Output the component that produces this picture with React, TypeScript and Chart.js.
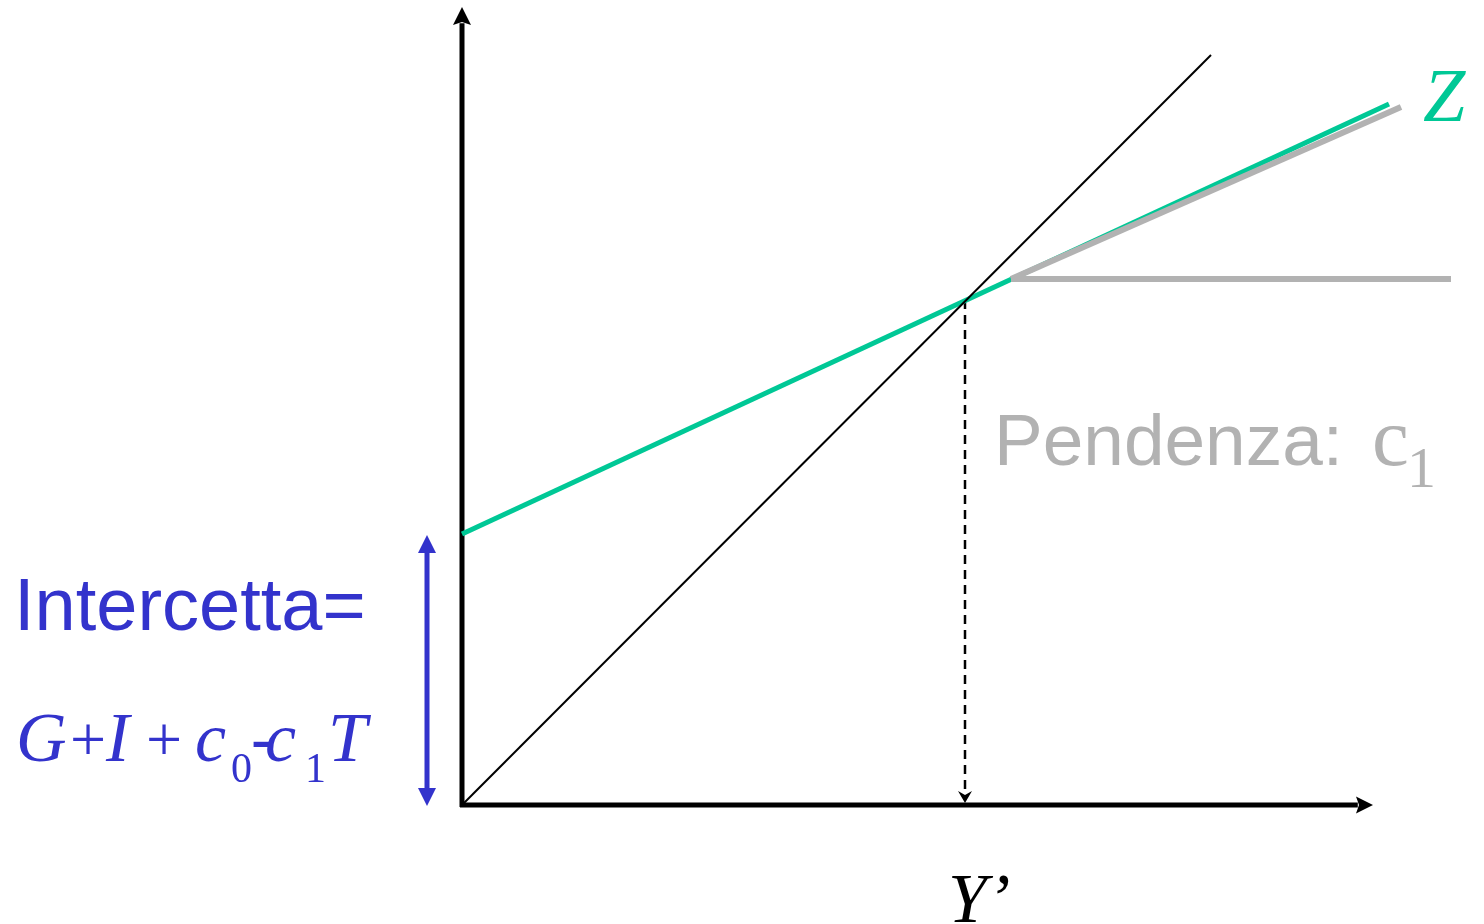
import React, { useEffect, useRef } from "react";
import { Chart, registerables } from "chart.js";

Chart.register(...registerables);

// ---- data (units: value space of the diagram, origin = (0,0)) ----
const X_RANGE = [-4.62, 10.22];
const Y_RANGE = [-1.19, 8.05];

const yAxisLine = [[0, -0.02], [0, 7.98]];
const xAxisLine = [[-0.02, 0], [9.11, 0]];
const line45 = [[0, 0], [7.49, 7.5]];
const zzLine = [[0, 2.71], [9.27, 7.01]];
const slopeLine = [[5.49, 5.26], [9.39, 6.98]];
const flatLine = [[5.49, 5.26], [9.89, 5.26]];
const eqDrop = [[5.03, 5.05], [5.03, 0.02]];
const interceptArrow = [[-0.35, -0.01], [-0.35, 2.7]];

const BLACK = "#000000";
const GREEN = "rgb(0,200,150)";
const GRAY = "rgb(178,178,178)";
const BLUE = "rgb(51,51,204)";
const SERIF = "'Liberation Serif', 'Times New Roman', serif";
const SANS = "'Liberation Sans', Arial, sans-serif";

const pts = (a: number[][]) => a.map(([x, y]) => ({ x, y }));

type Head = { len: number; half: number; notch: number };

function headsFor(chart: any, ds: any) {
  const out: any[] = [];
  const xs = chart.scales.x;
  const ys = chart.scales.y;
  const d = ds.data;
  const mk = (tipP: any, fromP: any, h: Head) => {
    const tx = xs.getPixelForValue(tipP.x);
    const ty = ys.getPixelForValue(tipP.y);
    const fx = xs.getPixelForValue(fromP.x);
    const fy = ys.getPixelForValue(fromP.y);
    const L = Math.hypot(tx - fx, ty - fy) || 1;
    out.push({ tx, ty, dx: (tx - fx) / L, dy: (ty - fy) / L, h });
  };
  if (ds.arrowEnd) mk(d[d.length - 1], d[d.length - 2], ds.arrowEnd);
  if (ds.arrowStart) mk(d[0], d[1], ds.arrowStart);
  return out;
}

const arrowPlugin = {
  id: "arrowHeads",
  beforeDatasetDraw(chart: any, args: any) {
    const ds = chart.data.datasets[args.index];
    const heads = headsFor(chart, ds);
    if (!heads.length) return;
    const ctx = chart.ctx;
    ctx.save();
    ctx.beginPath();
    ctx.rect(0, 0, chart.width, chart.height);
    for (const hd of heads) {
      const { tx, ty, dx, dy, h } = hd;
      const nx = -dy, ny = dx;
      const w = (ds.borderWidth + 2) / 2;
      const back = h.len - h.notch * 0.6;
      const bx = tx - dx * back, by = ty - dy * back;
      const ex = tx + dx * 3, ey = ty + dy * 3;
      ctx.moveTo(bx + nx * w, by + ny * w);
      ctx.lineTo(ex + nx * w, ey + ny * w);
      ctx.lineTo(ex - nx * w, ey - ny * w);
      ctx.lineTo(bx - nx * w, by - ny * w);
      ctx.closePath();
    }
    ctx.clip("evenodd");
  },
  afterDatasetDraw(chart: any, args: any) {
    const ds = chart.data.datasets[args.index];
    const heads = headsFor(chart, ds);
    if (!heads.length) return;
    const ctx = chart.ctx;
    ctx.restore();
    ctx.save();
    ctx.fillStyle = ds.borderColor;
    for (const hd of heads) {
      const { tx, ty, dx, dy, h } = hd;
      const nx = -dy, ny = dx;
      const bx = tx - dx * h.len, by = ty - dy * h.len;
      ctx.beginPath();
      ctx.moveTo(tx, ty);
      ctx.lineTo(bx + nx * h.half, by + ny * h.half);
      ctx.lineTo(bx + dx * h.notch, by + dy * h.notch);
      ctx.lineTo(bx - nx * h.half, by - ny * h.half);
      ctx.closePath();
      ctx.fill();
    }
    ctx.restore();
  },
};

type Seg = { t: string; x: number; font: string; dy?: number };

const textPlugin = {
  id: "labels",
  afterDraw(chart: any) {
    const ctx = chart.ctx;
    ctx.save();
    ctx.textBaseline = "alphabetic";
    ctx.textAlign = "left";
    const run = (segs: Seg[], baseY: number, color: string) => {
      ctx.fillStyle = color;
      for (const s of segs) {
        ctx.font = s.font;
        ctx.fillText(s.t, s.x, baseY + (s.dy || 0));
      }
    };
    // Intercetta
    run([{ t: "Intercetta=", x: 14, font: `74px ${SANS}` }], 630, BLUE);
    const it = `italic 70px ${SERIF}`;
    const rm = `70px ${SERIF}`;
    const plus = `64px ${SERIF}`;
    const sub = `42px ${SERIF}`;
    run(
      [
        { t: "G", x: 16, font: it },
        { t: "+", x: 70, font: plus },
        { t: "I", x: 106, font: it },
        { t: "+", x: 146, font: plus },
        { t: "c", x: 195, font: it },
        { t: "0", x: 231, font: sub, dy: 21 },
        { t: "-", x: 251, font: rm },
        { t: "c", x: 265, font: it },
        { t: "1", x: 305, font: sub, dy: 21 },
        { t: "T", x: 328, font: it },
      ],
      761,
      BLUE
    );
    // Pendenza
    run(
      [
        { t: "Pendenza:", x: 994, font: `73px ${SANS}` },
        { t: "c", x: 1372, font: `83px ${SERIF}` },
        { t: "1", x: 1407, font: `58px ${SERIF}`, dy: 22 },
      ],
      465,
      GRAY
    );
    // Z label
    run([{ t: "Z", x: 1423, font: `italic 76px ${SERIF}` }], 121, GREEN);
    // Y'
    run([{ t: "Y\u2019", x: 948, font: `italic 70px ${SERIF}` }], 922, BLACK);
    ctx.restore();
  },
};

export default function App() {
  const ref = useRef<HTMLCanvasElement | null>(null);
  useEffect(() => {
    if (!ref.current) return;
    const base = {
      showLine: true,
      pointRadius: 0,
      pointHoverRadius: 0,
      fill: false,
      tension: 0,
      borderCapStyle: "butt",
    };
    const chart = new Chart(ref.current, {
      type: "scatter",
      data: {
        datasets: [
          { ...base, label: "45°", data: pts(line45), borderColor: BLACK, borderWidth: 2 },
          { ...base, label: "flat", data: pts(flatLine), borderColor: GRAY, borderWidth: 6 },
          { ...base, label: "slope", data: pts(slopeLine), borderColor: GRAY, borderWidth: 6 },
          { ...base, label: "ZZ", data: pts(zzLine), borderColor: GREEN, borderWidth: 5 },
          {
            ...base,
            label: "Y'",
            data: pts(eqDrop),
            borderColor: BLACK,
            borderWidth: 2.5,
            borderDash: [9, 6],
            arrowEnd: { len: 12, half: 7, notch: 4 },
          },
          {
            ...base,
            label: "y-axis",
            data: pts(yAxisLine),
            borderColor: BLACK,
            borderWidth: 5,
            arrowEnd: { len: 18, half: 9, notch: 3 },
          },
          {
            ...base,
            label: "x-axis",
            data: pts(xAxisLine),
            borderColor: BLACK,
            borderWidth: 5,
            arrowEnd: { len: 17, half: 8.5, notch: 3 },
          },
          {
            ...base,
            label: "intercept",
            data: pts(interceptArrow),
            borderColor: BLUE,
            borderWidth: 5,
            arrowEnd: { len: 18, half: 9, notch: 0 },
            arrowStart: { len: 18, half: 9, notch: 0 },
          },
        ] as any,
      },
      options: {
        animation: false,
        responsive: false,
        maintainAspectRatio: false,
        layout: { padding: 0 },
        events: [],
        plugins: { legend: { display: false }, tooltip: { enabled: false } },
        scales: {
          x: { type: "linear", min: X_RANGE[0], max: X_RANGE[1], display: false },
          y: { type: "linear", min: Y_RANGE[0], max: Y_RANGE[1], display: false },
        },
      } as any,
      plugins: [arrowPlugin, textPlugin],
    });
    return () => chart.destroy();
  }, []);
  return (
    <div style={{ position: "absolute", left: 0, top: 0, width: 1484, height: 924, background: "#fff" }}>
      <canvas ref={ref} width={1484} height={924} style={{ display: "block", width: 1484, height: 924 }} />
    </div>
  );
}
